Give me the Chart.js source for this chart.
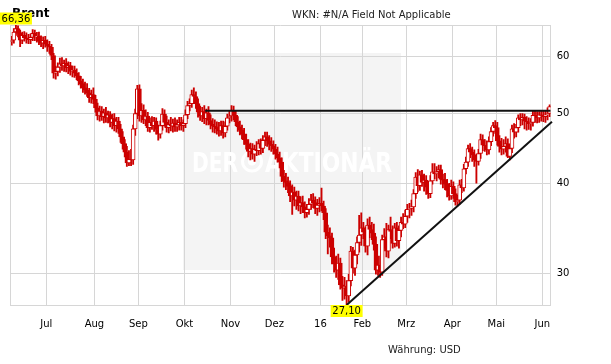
<!DOCTYPE html>
<html>
<head>
<meta charset="utf-8">
<title>Brent</title>
<script src="https://cdn.jsdelivr.net/npm/chart.js@4.4.1/dist/chart.umd.min.js"></script>
<style>
  html, body { margin: 0; padding: 0; background: #fff; }
  canvas { display: block; }
</style>
</head>
<body>
<canvas id="brentChart" width="611" height="364"></canvas>
<script>
// Brent daily candles, one entry per trading day (8 Jun 2015 - 6 Jun 2016)
const open = [
  62.9,63.2,64.9,65.6,64.6,63.2,64.2,63.7,63.5,63.3,
  63.8,64.6,63.9,64.0,63.0,62.6,63.2,62.4,62.0,61.8,
  60.2,56.9,57.2,58.0,58.6,58.2,58.7,57.9,58.3,57.2,
  57.4,56.9,56.4,55.5,55.0,54.3,53.9,53.4,52.6,53.1,
  52.3,50.9,49.6,50.4,49.5,50.1,49.3,49.8,48.6,49.2,
  48.1,48.8,47.6,46.4,45.4,44.2,42.7,43.2,43.1,47.6,
  50.0,54.1,49.6,50.5,49.0,49.6,47.8,48.6,48.1,48.8,
  47.5,46.8,48.1,49.9,48.6,47.8,48.3,48.0,48.5,47.9,
  48.2,48.6,48.1,48.4,49.8,51.3,51.6,53.1,52.8,51.6,
  50.2,49.6,50.3,49.2,50.1,48.9,48.3,48.0,47.9,47.6,
  47.3,48.1,47.0,48.0,49.3,49.6,50.5,49.7,48.7,47.9,
  47.4,46.8,46.0,45.3,44.3,44.7,43.9,44.6,44.4,45.4,
  44.7,45.9,46.4,45.8,45.3,45.1,44.6,43.9,43.4,42.8,
  40.9,40.3,40.1,39.6,38.4,38.9,37.9,38.4,37.2,37.6,
  37.1,36.4,36.8,37.4,37.9,37.6,36.9,37.3,37.5,37.2,
  36.4,34.2,33.8,33.6,31.6,30.9,30.3,31.0,28.9,28.6,
  28.8,27.9,29.3,32.2,30.5,31.8,33.1,33.9,34.7,34.2,
  32.7,35.0,34.5,34.1,32.9,30.3,30.8,30.1,33.4,33.7,
  32.2,34.5,34.3,33.0,34.7,33.3,34.4,35.3,35.1,36.0,
  36.8,36.9,37.1,38.7,40.8,39.7,41.1,40.1,40.4,39.5,
  38.7,40.3,41.5,41.2,41.5,41.8,40.5,40.4,39.9,39.1,
  38.4,39.6,38.7,37.7,37.9,39.8,39.4,41.9,42.8,44.7,
  44.2,43.8,43.1,42.9,44.0,46.0,45.2,45.1,44.5,45.7,
  47.2,48.1,47.8,45.8,45.0,44.6,45.0,45.4,43.6,44.7,
  47.6,47.1,47.8,49.3,49.0,49.4,48.8,48.7,48.4,48.6,
  49.7,49.6,49.3,49.8,49.7,49.5,49.8,50.0
];
const high = [
  64.0,65.6,66.36,66.2,65.3,64.9,65.0,64.7,64.4,64.5,
  65.4,65.3,64.8,64.9,64.1,63.9,64.0,63.3,63.0,62.4,
  60.6,58.2,58.8,59.7,59.8,59.3,59.6,59.0,58.9,58.2,
  58.2,57.7,57.0,56.3,55.8,55.3,55.0,54.2,53.9,54.3,
  53.0,51.7,51.2,51.1,50.7,51.0,50.4,50.3,49.9,50.0,
  49.4,49.4,48.3,47.2,46.0,45.0,44.4,44.6,48.2,50.7,
  54.7,54.8,51.6,51.4,50.6,50.2,49.3,49.5,49.4,49.3,
  48.2,48.8,50.8,50.6,49.6,49.0,49.4,49.1,49.3,49.0,
  49.4,49.4,49.0,50.6,52.0,52.4,53.9,54.3,53.6,52.4,
  51.2,51.0,51.3,50.7,51.1,49.8,49.2,49.0,48.7,48.6,
  48.8,48.8,48.7,49.9,50.5,51.3,51.2,50.4,49.5,48.8,
  48.2,47.7,46.8,46.0,45.5,45.4,45.2,45.7,46.0,46.1,
  46.6,47.1,47.1,46.6,46.3,45.8,45.3,44.9,44.2,43.4,
  41.7,41.3,40.8,40.3,39.8,39.5,39.0,39.0,38.3,38.4,
  37.7,37.4,38.1,38.6,38.7,38.3,38.0,38.2,39.4,37.8,
  36.9,35.0,34.7,34.1,32.5,31.7,31.9,31.5,29.7,29.6,
  29.3,29.9,32.7,32.6,32.3,33.7,36.1,36.4,35.3,34.8,
  35.7,35.9,35.3,35.1,33.7,31.7,31.7,33.9,34.6,35.2,
  35.0,35.9,34.9,35.2,35.3,34.9,35.9,36.3,36.7,37.4,
  37.5,37.9,39.2,41.4,41.8,41.6,41.7,41.2,41.0,40.2,
  41.0,42.6,42.6,42.2,42.4,42.4,41.2,41.3,40.5,40.0,
  40.4,40.2,39.3,38.5,40.4,40.5,42.5,43.5,45.2,45.4,
  44.9,44.5,43.9,44.6,46.8,46.7,46.0,45.8,46.4,47.8,
  48.6,48.9,48.6,46.6,46.2,46.0,46.4,46.1,45.3,48.2,
  48.4,48.3,49.8,50.0,50.0,49.9,49.5,49.3,49.2,50.4,
  50.4,50.3,50.3,50.4,50.5,50.4,50.9,51.4
];
const low = [
  62.2,62.6,64.2,63.9,61.9,62.5,63.0,62.6,62.5,62.5,
  63.1,63.1,62.8,62.3,61.9,61.5,61.8,61.0,60.6,59.4,
  56.0,55.8,56.4,57.0,57.4,57.2,57.1,56.8,56.5,56.2,
  56.1,55.7,54.8,54.2,53.5,53.2,52.8,51.8,51.7,51.6,
  50.2,49.0,48.8,48.9,48.5,48.6,48.5,47.9,47.6,47.3,
  47.1,46.9,45.6,44.6,43.5,42.2,42.3,42.3,42.5,46.6,
  49.2,48.8,48.6,48.4,48.1,47.2,47.1,47.5,47.2,46.8,
  45.9,46.2,47.4,48.0,47.1,47.0,47.3,47.1,47.2,47.2,
  47.4,47.4,47.2,47.8,49.2,50.4,51.0,52.1,50.8,49.4,
  48.9,48.7,48.4,48.2,48.2,47.6,47.1,47.0,46.8,46.5,
  46.6,46.2,46.4,47.4,48.5,48.8,49.0,48.1,47.2,46.7,
  46.1,45.3,44.6,43.5,43.1,43.2,42.9,43.7,43.8,43.9,
  44.1,45.1,45.0,44.5,44.3,43.9,43.2,42.8,42.0,40.2,
  39.5,39.2,38.8,37.7,36.2,37.2,36.8,36.6,36.3,36.4,
  35.8,35.9,36.2,36.8,37.0,36.3,36.1,36.5,36.6,35.6,
  33.5,31.9,32.6,30.9,30.1,29.6,29.4,28.5,27.5,27.6,
  27.1,27.4,28.8,30.0,29.8,30.9,32.1,32.8,33.5,32.1,
  31.8,33.6,33.4,32.3,29.9,29.8,29.6,29.8,32.5,31.6,
  31.5,33.5,32.5,32.6,32.7,32.5,33.7,34.6,34.7,35.3,
  35.8,36.1,36.5,38.1,38.9,39.1,39.6,39.0,38.6,38.1,
  38.2,39.9,40.6,40.3,40.7,39.9,39.4,39.2,38.3,37.9,
  38.0,38.1,37.3,37.2,37.4,38.8,39.0,41.2,42.2,43.4,
  42.9,42.2,40.0,42.4,43.3,44.4,44.3,43.8,43.9,45.1,
  46.5,46.9,45.2,44.2,43.8,43.9,44.2,43.4,43.1,44.1,
  46.2,46.4,47.1,48.1,48.2,47.6,47.4,47.5,47.4,48.0,
  48.6,48.5,48.6,48.8,48.7,48.6,49.0,49.5
];
const close = [
  63.2,64.9,65.6,64.6,63.2,64.2,63.7,63.5,63.3,63.8,
  64.6,63.9,64.0,63.0,62.6,63.2,62.4,62.0,61.8,60.2,
  56.9,57.2,58.0,58.6,58.2,58.7,57.9,58.3,57.2,57.4,
  56.9,56.4,55.5,55.0,54.3,53.9,53.4,52.6,53.1,52.3,
  50.9,49.6,50.4,49.5,50.1,49.3,49.8,48.6,49.2,48.1,
  48.8,47.6,46.4,45.4,44.2,42.7,43.2,43.1,47.6,50.0,
  54.1,49.6,50.5,49.0,49.6,47.8,48.6,48.1,48.8,47.5,
  46.8,48.1,49.9,48.6,47.8,48.3,48.0,48.5,47.9,48.2,
  48.6,48.1,48.4,49.8,51.3,51.6,53.1,52.8,51.6,50.2,
  49.6,50.3,49.2,50.1,48.9,48.3,48.0,47.9,47.6,47.3,
  48.1,47.0,48.0,49.3,49.6,50.5,49.7,48.7,47.9,47.4,
  46.8,46.0,45.3,44.3,44.7,43.9,44.6,44.4,45.4,44.7,
  45.9,46.4,45.8,45.3,45.1,44.6,43.9,43.4,42.8,40.9,
  40.3,40.1,39.6,38.4,38.9,37.9,38.4,37.2,37.6,37.1,
  36.4,36.8,37.4,37.9,37.6,36.9,37.3,37.5,37.2,36.4,
  34.2,33.8,33.6,31.6,30.9,30.3,31.0,28.9,28.6,28.8,
  27.9,29.3,32.2,30.5,31.8,33.1,33.9,34.7,34.2,32.7,
  35.0,34.5,34.1,32.9,30.3,30.8,30.1,33.4,33.7,32.2,
  34.5,34.3,33.0,34.7,33.3,34.4,35.3,35.1,36.0,36.8,
  36.9,37.1,38.7,40.8,39.7,41.1,40.1,40.4,39.5,38.7,
  40.3,41.5,41.2,41.5,41.8,40.5,40.4,39.9,39.1,38.4,
  39.6,38.7,37.7,37.9,39.8,39.4,41.9,42.8,44.7,44.2,
  43.8,43.1,42.9,44.0,46.0,45.2,45.1,44.5,45.7,47.2,
  48.1,47.8,45.8,45.0,44.6,45.0,45.4,43.6,44.7,47.6,
  47.1,47.8,49.3,49.0,49.4,48.8,48.7,48.4,48.6,49.7,
  49.6,49.3,49.8,49.7,49.5,49.8,50.0,51.1
];

// month labels and the trading-day position where each month begins
const monthLabels = ['Jul', 'Aug', 'Sep', 'Okt', 'Nov', 'Dez', '16', 'Feb', 'Mrz', 'Apr', 'Mai', 'Jun'];
const monthStarts = [16.5, 39.5, 60.5, 82.5, 104.5, 125.5, 147.5, 167.5, 188.5, 210.5, 231.5, 253.5];
const priceTicks = [30, 40, 50, 60];

// trend lines (trading-day position, price)
const resistanceX = [92.4, 257.5];
const resistanceY = [50.45, 50.45];
const supportX = [160, 258.1];
const supportY = [27.1, 48.7];

const red = '#cc0000';
const gridColor = '#d6d6d6';
const font = '"DejaVu Sans", Verdana, sans-serif';

const yMin = Math.min(...low);
const yMax = Math.max(...high);
const xFirst = -0.5;
const xLast = close.length - 0.5;

const fmt = v => v.toFixed(2).replace('.', ',');

// background, watermark and the text around the plot
const decor = {
  id: 'decor',
  beforeDraw(chart) {
    const c = chart.ctx;
    c.save();
    c.fillStyle = '#fff';
    c.fillRect(0, 0, chart.width, chart.height);
    c.fillStyle = '#f4f4f4';
    c.fillRect(183, 53, 218, 217);
    c.restore();
  },
  beforeDatasetsDraw(chart) {
    const c = chart.ctx;
    c.save();
    c.fillStyle = '#fff';
    c.strokeStyle = '#fff';
    c.font = 'bold 27px ' + font;
    c.textBaseline = 'alphabetic';
    const word = (txt, x0, w) => {
      const m = c.measureText(txt).width;
      c.save();
      c.translate(x0, 171.5);
      c.scale(w / m, 1);
      c.fillText(txt, 0, 0);
      c.restore();
    };
    word('DER', 192, 46);
    word('AKTIONÄR', 265, 127);
    c.lineWidth = 3;
    c.beginPath();
    c.arc(252, 161.5, 9.5, 0, Math.PI * 2);
    c.stroke();
    c.beginPath();
    c.arc(252, 161.5, 4, 0, Math.PI * 2);
    c.fill();
    c.restore();
  },
  afterDraw(chart) {
    const c = chart.ctx;
    const xs = chart.scales.x;
    const ys = chart.scales.y;
    c.save();
    c.fillStyle = '#000';
    c.textAlign = 'left';
    c.textBaseline = 'alphabetic';
    c.font = 'bold 12px ' + font;
    c.fillText('Brent', 12, 16.5);
    c.font = '10px ' + font;
    c.fillStyle = '#222';
    c.fillText('WKN: #N/A Field Not Applicable', 292, 17.5);
    c.fillText('Währung: USD', 388, 353);

    // max / min price tags
    const tag = (idx, val, above) => {
      const px = xs.getPixelForValue(idx);
      const py = ys.getPixelForValue(val);
      const top = above ? py - 12.5 : py;
      c.fillStyle = '#ffff00';
      c.fillRect(px - 16, top, 32, 12);
      c.fillStyle = '#000';
      c.textAlign = 'center';
      c.textBaseline = 'middle';
      c.fillText(fmt(val), px, top + 6.5);
    };
    tag(high.indexOf(yMax), yMax, true);
    tag(low.indexOf(yMin), yMin, false);
    c.restore();
  }
};

const ctx = document.getElementById('brentChart').getContext('2d');
const brentChart = new Chart(ctx, {
  type: 'bar',
  data: {
    datasets: [
      {
        type: 'line',
        data: resistanceX.map((x, i) => ({ x: x, y: resistanceY[i] })),
        borderColor: '#111',
        borderWidth: 2,
        pointRadius: 0,
        order: 1
      },
      {
        type: 'line',
        data: supportX.map((x, i) => ({ x: x, y: supportY[i] })),
        borderColor: '#111',
        borderWidth: 2,
        pointRadius: 0,
        clip: false,
        order: 1
      },
      {
        // candle bodies: hollow when the day closed higher
        data: open.map((o, i) => ({ x: i, y: [o, close[i]] })),
        backgroundColor: open.map((o, i) => close[i] >= o ? '#fff' : red),
        borderColor: red,
        borderWidth: 1,
        borderSkipped: false,
        barThickness: 4,
        grouped: false,
        order: 2
      },
      {
        // wicks
        data: low.map((l, i) => ({ x: i, y: [l, high[i]] })),
        backgroundColor: red,
        borderWidth: 0,
        barThickness: 1.2,
        grouped: false,
        order: 3
      }
    ]
  },
  options: {
    responsive: false,
    animation: false,
    devicePixelRatio: 1,
    events: [],
    layout: { padding: { left: 10.7, top: 25, right: 0, bottom: 0 } },
    plugins: {
      legend: { display: false },
      tooltip: { enabled: false }
    },
    scales: {
      x: {
        type: 'linear',
        min: xFirst,
        max: xLast,
        offset: false,
        afterBuildTicks: axis => {
          axis.ticks = [xFirst].concat(monthStarts, [xLast]).map(v => ({ value: v }));
        },
        afterFit: axis => {
          axis.height = 59;
          axis.paddingLeft = 0;
          axis.paddingRight = 0;
        },
        grid: { color: gridColor, offset: false, drawTicks: false },
        border: { color: gridColor },
        ticks: {
          autoSkip: false,
          maxRotation: 0,
          padding: 13,
          color: '#000',
          font: { family: font, size: 10 },
          callback: value => {
            const k = monthStarts.indexOf(value);
            return k >= 0 ? monthLabels[k] : '';
          }
        }
      },
      y: {
        type: 'logarithmic',
        position: 'right',
        min: yMin,
        max: yMax,
        beginAtZero: false,
        afterBuildTicks: axis => {
          axis.ticks = [yMin].concat(priceTicks, [yMax]).map(v => ({ value: v }));
        },
        afterFit: axis => {
          axis.width = 60.3;
          axis.paddingTop = 0;
          axis.paddingBottom = 0;
        },
        grid: { color: gridColor, drawTicks: false },
        border: { color: gridColor },
        ticks: {
          padding: 6,
          color: '#000',
          font: { family: font, size: 10 },
          callback: value => priceTicks.includes(value) ? String(value) : ''
        }
      }
    }
  },
  plugins: [decor]
});
</script>
</body>
</html>
